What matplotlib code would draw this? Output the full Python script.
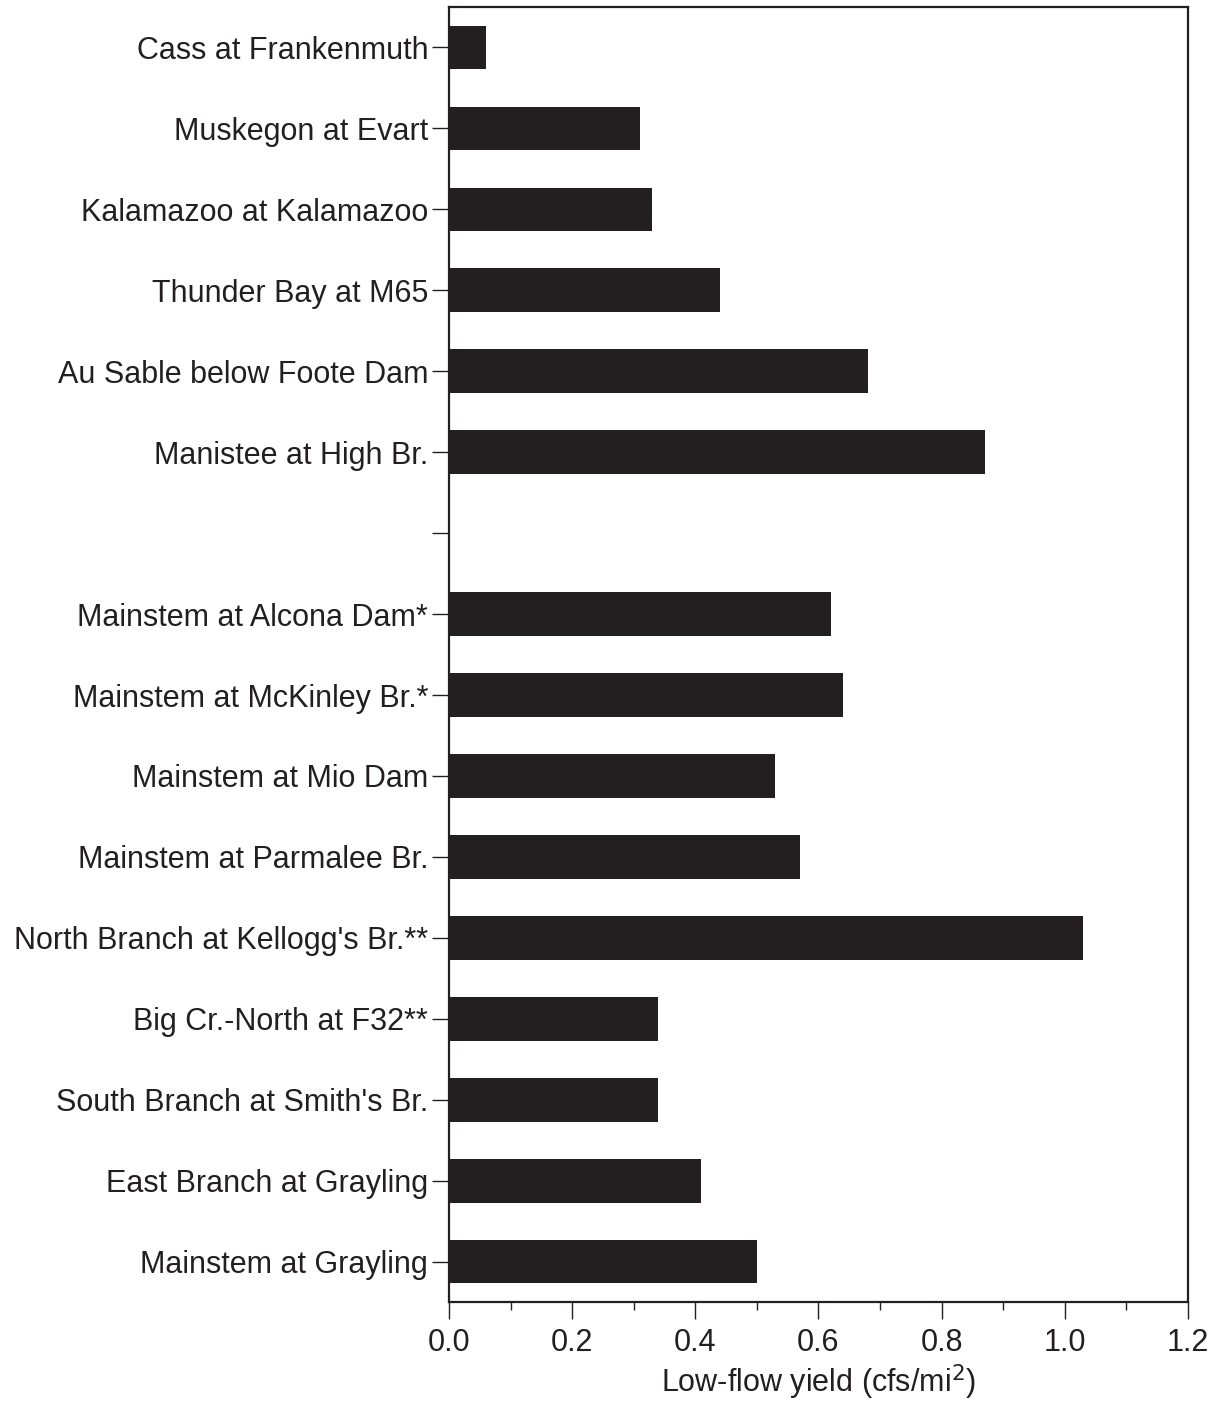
import matplotlib
matplotlib.use('Agg')
import matplotlib.pyplot as plt
from matplotlib.ticker import MultipleLocator

# --- data (top to bottom) ---
sites = [
    "Cass at Frankenmuth",
    "Muskegon at Evart",
    "Kalamazoo at Kalamazoo",
    "Thunder Bay at M65",
    "Au Sable below Foote Dam",
    "Manistee at High Br.",
    "",
    "Mainstem at Alcona Dam*",
    "Mainstem at McKinley Br.*",
    "Mainstem at Mio Dam",
    "Mainstem at Parmalee Br.",
    "North Branch at Kellogg's Br.**",
    "Big Cr.-North at F32**",
    "South Branch at Smith's Br.",
    "East Branch at Grayling",
    "Mainstem at Grayling",
]
yields = [0.06, 0.31, 0.33, 0.44, 0.68, 0.87, 0.0,
          0.62, 0.64, 0.53, 0.57, 1.03, 0.34, 0.34, 0.41, 0.50]

INK = '#231f20'
plt.rcParams['font.family'] = ['Liberation Sans', 'DejaVu Sans']

fig = plt.figure(figsize=(12.21, 14.04), dpi=100)
ax = fig.add_axes([0.3677, 0.0726, 0.973 - 0.3677, 0.995 - 0.0726])

pos = list(range(len(sites)))
ax.barh(pos, yields, height=0.54, color=INK, edgecolor='none')

ax.set_ylim(len(sites) - 0.5, -0.5)
ax.set_xlim(0, 1.2)
ax.set_yticks(pos)
ax.set_yticklabels(sites)

ax.xaxis.set_major_locator(MultipleLocator(0.2))
ax.xaxis.set_minor_locator(MultipleLocator(0.1))
ax.xaxis.set_major_formatter(matplotlib.ticker.FormatStrFormatter('%.1f'))

ax.tick_params(axis='both', which='major', direction='out', length=12,
               width=1.0, color=INK, labelcolor=INK, labelsize=22, pad=3)
ax.tick_params(axis='x', which='major', pad=7)
ax.tick_params(axis='x', which='minor', direction='out', length=6,
               width=1.0, color=INK)

for s in ax.spines.values():
    s.set_linewidth(1.6)
    s.set_color(INK)

ax.set_xlabel('Low-flow yield (cfs/mi$^{2}$)', fontsize=22, color=INK, labelpad=3)

fig.savefig('out.png', dpi=100)
